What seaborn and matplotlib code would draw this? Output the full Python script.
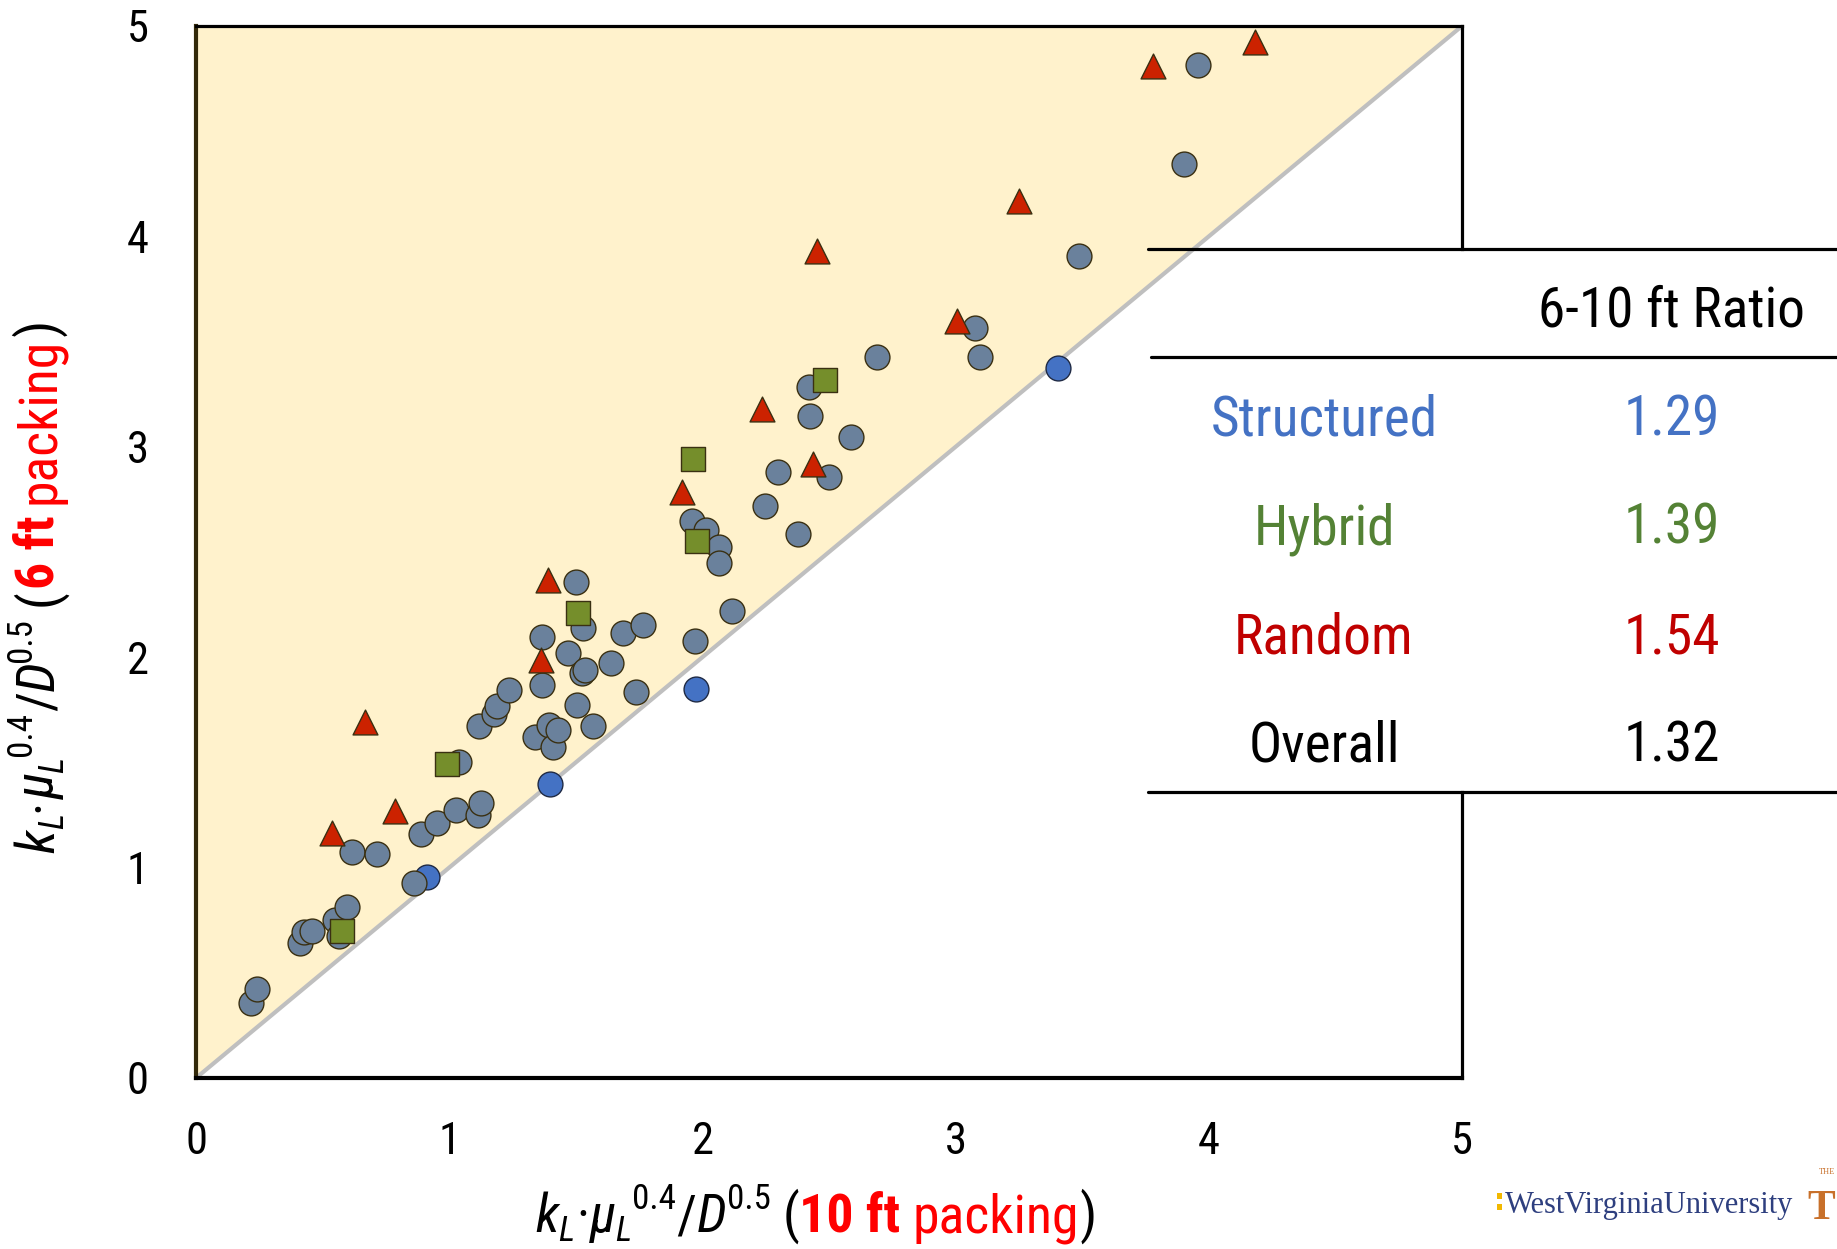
import numpy as np
import matplotlib
matplotlib.use("Agg")
import matplotlib.pyplot as plt
import seaborn as sns
from matplotlib import font_manager as fm
from matplotlib.lines import Line2D
from matplotlib.patches import Rectangle

# ---------------- data ----------------
slate_x = [0.216, 0.242, 0.411, 0.428, 0.458, 0.548, 0.598, 0.566, 0.861, 0.617,
           0.716, 0.890, 0.953, 1.026, 1.114, 1.127, 1.040, 1.116, 1.177, 1.187,
           1.339, 1.393, 1.409, 1.430, 1.569, 1.506, 1.236, 1.365, 1.368, 1.469,
           1.523, 1.538, 1.528, 1.501, 1.639, 1.688, 1.767, 1.738, 1.971, 2.116,
           1.959, 2.014, 2.067, 2.064, 2.246, 2.376, 2.300, 2.500, 2.586, 2.426,
           2.422, 2.691, 3.077, 3.095, 3.486, 3.902, 3.959]
slate_y = [0.358, 0.422, 0.643, 0.695, 0.699, 0.751, 0.814, 0.676, 0.928, 1.076,
           1.065, 1.160, 1.211, 1.274, 1.249, 1.306, 1.500, 1.673, 1.730, 1.768,
           1.622, 1.678, 1.572, 1.654, 1.673, 1.773, 1.844, 1.868, 2.098, 2.018,
           1.923, 1.939, 2.137, 2.356, 1.971, 2.113, 2.153, 1.836, 2.078, 2.220,
           2.647, 2.605, 2.525, 2.446, 2.720, 2.586, 2.882, 2.855, 3.047, 3.148,
           3.283, 3.428, 3.563, 3.425, 3.907, 4.343, 4.815]

blue_x = [0.911, 1.399, 1.976, 3.404]
blue_y = [0.957, 1.399, 1.847, 3.375]

hybrid_x = [0.578, 0.993, 1.507, 1.962, 1.980, 2.483]
hybrid_y = [0.699, 1.491, 2.212, 2.942, 2.554, 3.318]

random_x = [0.538, 0.666, 0.785, 1.361, 1.391, 1.918, 2.234, 2.437, 2.451, 3.005,
            3.250, 3.781, 4.181]
random_y = [1.164, 1.694, 1.269, 1.987, 2.367, 2.785, 3.181, 2.918, 3.932, 3.599,
            4.170, 4.811, 4.925]

ticks = [0, 1, 2, 3, 4, 5]
table_header = "6-10 ft Ratio"
table_labels = ["Structured", "Hybrid", "Random", "Overall"]
table_values = ["1.29", "1.39", "1.54", "1.32"]
table_colors = ["#4472C4", "#548235", "#C00000", "#000000"]


# ---------------- font choice (a narrow sans, like the squeezed Calibri) ----------------
def pick_font():
    entries = fm.fontManager.ttflist
    names = {e.name for e in entries}
    prefs = ["Liberation Sans Narrow", "Roboto Condensed", "Open Sans Condensed",
             "Noto Sans Condensed", "DejaVu Sans Condensed", "Noto Sans Display Condensed"]
    for p in prefs:
        if p in names:
            st = [e.stretch for e in entries if e.name == p and e.style == "normal"]
            return p, (st[0] if st else "normal")
    for fam in ["Noto Sans", "DejaVu Sans", "Open Sans", "Roboto", "Liberation Sans"]:
        for e in entries:
            if (e.name == fam and e.style == "normal"
                    and str(e.stretch) in ("condensed", "semi-condensed", "extra-condensed")):
                return fam, e.stretch
    for e in entries:
        n = e.name.lower()
        if (("condensed" in n or "narrow" in n) and "serif" not in n
                and "mono" not in n and e.style == "normal"):
            return e.name, e.stretch
    return "Lato", "normal"


FAM, STRETCH = pick_font()

# ---------------- style ----------------
sns.set_theme(style="white")
FONT = [FAM, "DejaVu Sans"]
plt.rcParams["font.family"] = FONT
plt.rcParams["font.stretch"] = STRETCH

W, H = 1837, 1249
fig = plt.figure(figsize=(W / 100, H / 100), dpi=100)
fig.patch.set_facecolor("white")

AX_L, AX_R, AX_T, AX_B = 196, 1462, 26, 1078
ax = fig.add_axes([AX_L / W, 1 - AX_B / H, (AX_R - AX_L) / W, (AX_B - AX_T) / H])
ax.set_facecolor("white")

# shaded region above the 1:1 line and the parity line
ax.fill_between([0, 5], [0, 5], [5, 5], color="#FFF2CC", lw=0, zorder=0.5)
ax.plot([0, 5], [0, 5], color="#BFBFBF", lw=3, zorder=1, solid_capstyle="butt")

EDGE = "#3A3012"
S = 320
sns.scatterplot(x=blue_x, y=blue_y, marker="o", s=S, color="#4472C4",
                edgecolor="#1F2A44", linewidth=1.0, zorder=3, ax=ax)
sns.scatterplot(x=slate_x, y=slate_y, marker="o", s=S, color="#6A819C",
                edgecolor=EDGE, linewidth=1.0, zorder=4, ax=ax)
sns.scatterplot(x=hybrid_x, y=hybrid_y, marker="s", s=S, color="#758E2B",
                edgecolor=EDGE, linewidth=1.0, zorder=5, ax=ax)
sns.scatterplot(x=random_x, y=random_y, marker="^", s=S, color="#CC2200",
                edgecolor=EDGE, linewidth=1.0, zorder=6, ax=ax)

ax.set_xlim(0, 5)
ax.set_ylim(0, 5)
ax.set_xticks(ticks)
ax.set_yticks(ticks)
ax.set_xticklabels([str(t) for t in ticks])
ax.set_yticklabels([str(t) for t in ticks])
ax.set_xlabel("")
ax.set_ylabel("")
ax.tick_params(axis="both", direction="in", length=11, width=2.5, labelsize=32,
               labelcolor="black", top=False, right=False)
ax.tick_params(axis="y", color="#33290A", pad=34)
ax.tick_params(axis="x", color="black", pad=31)

ax.spines["left"].set(color="#33290A", linewidth=3)
ax.spines["top"].set(color="black", linewidth=2.3)
ax.spines["bottom"].set(color="black", linewidth=3)
ax.spines["right"].set_visible(False)
y_tab_top = (AX_B - 249) / (AX_B - AX_T)
y_tab_bot = (AX_B - 792) / (AX_B - AX_T)
for y0, y1 in [(y_tab_top, 1.0), (0.0, y_tab_bot)]:
    ax.plot([1, 1], [y0, y1], transform=ax.transAxes, color="black", lw=2.3,
            clip_on=False, zorder=7, solid_capstyle="projecting")

# ---------------- helpers for measuring text ----------------
fig.canvas.draw()
R = fig.canvas.get_renderer()


def measure(s, fs, style="normal", weight="normal", family=None):
    kw = dict(fontsize=fs, style=style, weight=weight)
    if family is not None:
        kw["family"] = family
    t = fig.text(0, 0, s, **kw)
    w = t.get_window_extent(R).width
    t.remove()
    return w


# ---------------- table ----------------
def fig_line(x0, x1, y, lw=2.3):
    fig.add_artist(Line2D([x0 / W, x1 / W], [1 - y / H, 1 - y / H],
                          transform=fig.transFigure, color="black", lw=lw))


fig_line(1148, W, 249)
fig_line(1151, W, 357)
fig_line(1148, W, 792)

# size the table text so that "Structured" is as wide as in the reference (~227 px)
TFS = 40 * 227 / measure("Structured", 40)
TFS = min(TFS, 44)
fig.text(1672 / W, 1 - 327 / H, table_header, fontsize=TFS, ha="center",
         va="baseline", color="black")
for i, (lab, val, col) in enumerate(zip(table_labels, table_values, table_colors)):
    yb = 435 + i * 109
    fig.text(1324 / W, 1 - yb / H, lab, fontsize=TFS, ha="center", va="baseline", color=col)
    fig.text(1672 / W, 1 - yb / H, val, fontsize=TFS, ha="center", va="baseline", color=col)


# ---------------- rich axis labels ----------------
def rich(cx, cy, pieces, target_width, rot=0, base=38):
    """cx, cy: display coords (px, origin bottom-left) of the baseline centre."""
    total0 = 0.0
    for s, kw in pieces:
        fs = base * kw.get("scale", 1.0)
        total0 += kw.get("gap", 0.0) * base * 100 / 72
        total0 += measure(s, fs, kw.get("style", "normal"), kw.get("weight", "normal"))
    size = min(base * target_width / total0, 42)
    ang = np.deg2rad(rot)
    adv = np.array([np.cos(ang), np.sin(ang)])
    up = np.array([-np.sin(ang), np.cos(ang)])
    px = size * 100 / 72
    items = []
    total = 0.0
    for s, kw in pieces:
        fs = size * kw.get("scale", 1.0)
        gap = kw.get("gap", 0.0) * px
        w = measure(s, fs, kw.get("style", "normal"), kw.get("weight", "normal"))
        items.append((s, kw, fs, gap, w))
        total += gap + w
    pos = np.array([cx, cy], float) - adv * total / 2
    for s, kw, fs, gap, w in items:
        pos = pos + adv * gap
        p = pos + up * kw.get("shift", 0.0) * px
        fig.text(p[0] / W, p[1] / H, s, fontsize=fs, style=kw.get("style", "normal"),
                 weight=kw.get("weight", "normal"), color=kw.get("color", "black"),
                 rotation=rot, rotation_mode="anchor", ha="left", va="baseline")
        pos = pos + adv * w


IT = dict(style="italic")
SUB = dict(style="italic", scale=0.65, shift=-0.17)
SUP = dict(scale=0.65, shift=0.42)
RED = "#FF0000"


def label_pieces(length):
    return [
        ("k", IT), ("L", SUB), ("\u00b7", dict(gap=0.03)), ("\u03bc", IT), ("L", SUB),
        ("0.4", SUP), ("/", dict(gap=0.02)), ("D", IT), ("0.5", SUP),
        ("(", dict(gap=0.22)), (length, dict(weight="bold", color=RED)),
        ("packing", dict(color=RED, gap=0.22)), (")", dict(gap=0.02)),
    ]


rich(816, H - 1232, label_pieces("10 ft"), 561, rot=0)
rich(54, H - 586, label_pieces("6 ft"), 533, rot=90)

# ---------------- logos (as text) ----------------
SERIF = ["Liberation Serif", "DejaVu Serif"]
fig.add_artist(Rectangle((1497 / W, 1 - 1199 / H), 5 / W, 6 / H,
                         transform=fig.transFigure, color="#F2B800", lw=0))
fig.add_artist(Rectangle((1497 / W, 1 - 1210 / H), 5 / W, 6 / H,
                         transform=fig.transFigure, color="#F2B800", lw=0))
fig.text(1505 / W, 1 - 1213 / H, "WestVirginiaUniversity", fontsize=22, family=SERIF,
         stretch="normal", color="#2E3F7F", ha="left", va="baseline")
fig.text(1835 / W, 1 - 1219 / H, "T", fontsize=30, weight="bold", family=SERIF,
         stretch="normal", color="#C8702A", ha="right", va="baseline")
fig.text(1835 / W, 1 - 1174 / H, "THE", fontsize=6, family=SERIF,
         stretch="normal", color="#C8702A", ha="right", va="baseline")

fig.savefig("out.png", dpi=100, facecolor="white")
